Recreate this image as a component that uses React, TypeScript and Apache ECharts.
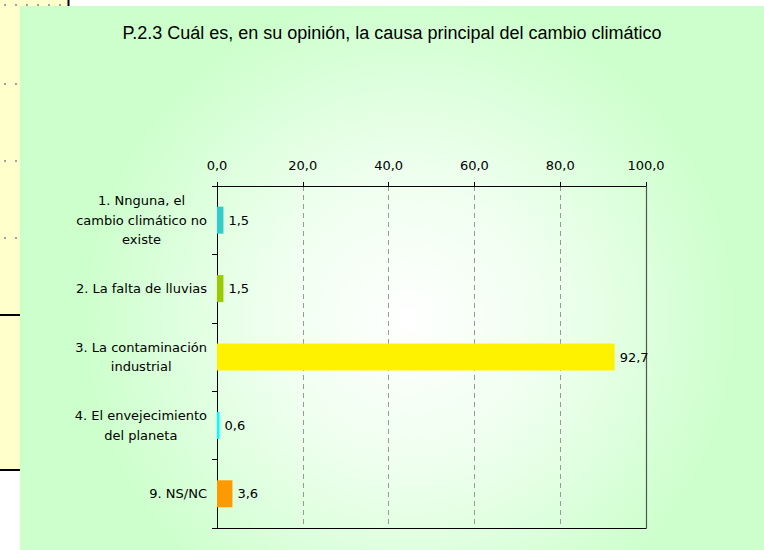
import React, { useEffect, useRef } from 'react';
import * as echarts from 'echarts';

const chartTitle = 'P.2.3 Cuál es, en su opinión, la causa principal del cambio climático';
const categories = [
  '1. Nnguna, el\ncambio climático no\nexiste',
  '2. La falta de lluvias',
  '3. La contaminación\nindustrial',
  '4. El envejecimiento\ndel planeta',
  '9. NS/NC',
];
const values = [1.5, 1.5, 92.7, 0.6, 3.6];
const barColors = ['#33CCCC', '#99CC00', '#FFF200', '#00FFFF', '#FF9900'];
const axisMin = 0;
const axisMax = 100;
const axisStep = 20;

const FONT = '"DejaVu Sans", "Liberation Sans", Arial, sans-serif';
const TITLE_FONT = '"Liberation Sans", Arial, sans-serif';
const fmt = (v: number) => v.toFixed(1).replace('.', ',');

export default function App() {
  const ref = useRef<HTMLDivElement>(null);
  useEffect(() => {
    if (!ref.current) return;
    const chart = echarts.init(ref.current, undefined, { renderer: 'svg' });
    const dots: any[] = [];
    const dotXs = [4, 15, 26, 37, 48, 59];
    dotXs.forEach((x) => dots.push({ type: 'rect', z: -9, shape: { x, y: 4, width: 2, height: 2 }, style: { fill: '#a0a0a0' } }));
    [83, 160, 237].forEach((y) =>
      [4, 15].forEach((x) => dots.push({ type: 'rect', z: -9, shape: { x, y, width: 2, height: 2 }, style: { fill: '#a0a0a0' } }))
    );
    const option: any = {
      animation: false,
      backgroundColor: '#ffffff',
      graphic: [
        { type: 'rect', z: -10, shape: { x: 0, y: 0, width: 68, height: 6 }, style: { fill: '#FFFFCC' } },
        { type: 'rect', z: -10, shape: { x: 0, y: 0, width: 20, height: 470 }, style: { fill: '#FFFFCC' } },
        { type: 'rect', z: -9, shape: { x: 67.5, y: 0, width: 2, height: 6 }, style: { fill: '#000' } },
        { type: 'rect', z: -9, shape: { x: 0, y: 314, width: 20, height: 2 }, style: { fill: '#000' } },
        { type: 'rect', z: -9, shape: { x: 0, y: 469, width: 20, height: 2 }, style: { fill: '#000' } },
        ...dots,
        {
          type: 'rect',
          z: -8,
          shape: { x: 20, y: 6, width: 744, height: 544 },
          style: {
            fill: new echarts.graphic.RadialGradient(
              410,
              320,
              330,
              [
                { offset: 0, color: '#ffffff' },
                { offset: 0.45, color: '#eeffee' },
                { offset: 1, color: '#ccffcc' },
              ],
              true
            ),
          },
        },
        {
          type: 'text',
          z: 10,
          x: 392,
          y: 33,
          style: {
            text: chartTitle,
            align: 'center',
            verticalAlign: 'middle',
            fill: '#000',
            font: `18px ${TITLE_FONT}`,
          },
        },
      ],
      grid: { left: 217, right: 118, top: 186, bottom: 22, containLabel: false },
      xAxis: [
        {
          type: 'value',
          position: 'top',
          min: axisMin,
          max: axisMax,
          interval: axisStep,
          axisLine: { show: true, lineStyle: { color: '#000', width: 1 } },
          axisTick: { show: true, length: 4, lineStyle: { color: '#000' } },
          axisLabel: { formatter: (v: number) => fmt(v), color: '#000', fontFamily: FONT, fontSize: 13, margin: 14 },
          splitLine: { show: true, lineStyle: { color: '#999', type: [5, 4], width: 1 } },
        },
        {
          type: 'value',
          position: 'bottom',
          min: axisMin,
          max: axisMax,
          interval: axisStep,
          axisLine: { show: true, onZero: false, lineStyle: { color: '#000', width: 1 } },
          axisTick: { show: false },
          axisLabel: { show: false },
          splitLine: { show: false },
        },
      ],
      yAxis: [
        {
          type: 'category',
          data: categories,
          inverse: true,
          axisLine: { show: true, onZero: false, lineStyle: { color: '#000', width: 1 } },
          axisTick: { show: true, length: 5, lineStyle: { color: '#000' } },
          axisLabel: {
            interval: 0,
            margin: 10,
            formatter: (v: string) => v.split('\n').map((l) => `{c|${l}}`).join('\n'),
            rich: {
              c: { align: 'center', color: '#000', fontFamily: FONT, fontSize: 13, lineHeight: 19.5 },
            },
          },
          splitLine: { show: false },
        },
        {
          type: 'category',
          data: categories,
          inverse: true,
          position: 'right',
          axisLine: { show: true, onZero: false, lineStyle: { color: '#555', width: 1.2 } },
          axisTick: { show: false },
          axisLabel: { show: false },
          splitLine: { show: false },
        },
      ],
      series: [
        {
          type: 'bar',
          xAxisIndex: 0,
          yAxisIndex: 0,
          barWidth: 27,
          data: values.map((v, i) => ({ value: v, itemStyle: { color: barColors[i] } })),
          label: {
            show: true,
            position: 'right',
            distance: 5,
            formatter: (p: any) => fmt(p.value),
            color: '#000',
            fontFamily: FONT,
            fontSize: 13,
          },
        },
      ],
    };
    chart.setOption(option);
    return () => chart.dispose();
  }, []);
  return <div ref={ref} style={{ position: 'fixed', left: 0, top: 0, width: 764, height: 550 }} />;
}
